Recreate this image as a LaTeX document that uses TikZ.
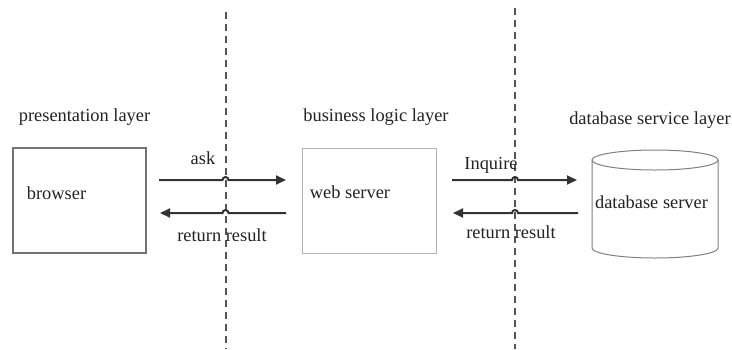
\documentclass[tikz,border=0pt]{standalone}
\usepackage{fontspec}
\setmainfont{Liberation Serif}
\usetikzlibrary{arrows.meta,calc}
\definecolor{ink}{HTML}{222222}
\definecolor{linegray}{HTML}{333333}
\definecolor{dashgray}{HTML}{555555}
\tikzset{
  txt/.style={inner sep=0pt, outer sep=0pt, text=ink, font=\fontsize{18.4}{22}\selectfont},
  boxdark/.style={draw=black!55, line width=2.2pt, minimum width=133pt, minimum height=105pt, inner sep=0pt, outer sep=0pt},
  boxlight/.style={draw=black!30, line width=1pt, minimum width=134pt, minimum height=105pt, inner sep=0pt, outer sep=0pt},
  cyl/.style={draw=black!50, line width=1pt},
  flow/.style={draw=linegray, line width=2pt, -{Triangle[length=10pt,width=9pt]}},
  divider/.style={draw=dashgray, line width=2pt, dash pattern=on 7pt off 5pt}
}
\begin{document}
\begin{tikzpicture}[x=1pt,y=-1pt]
\useasboundingbox (0,0) rectangle (732,349);

% layer dividers
\coordinate (d1top) at (225.5,12);
\coordinate (d1bot) at (225.5,349);
\coordinate (d2top) at (515,8);
\coordinate (d2bot) at (515,349);
\draw[divider] (d1top) -- (d1bot);
\draw[divider] (d2top) -- (d2bot);

% layer titles
\node[txt] (t1) at (84.5,117) {presentation layer};
\node[txt] (t2) at (376,117) {business logic layer};
\node[txt] (t3) at (650,120) {database service layer};

% components
\node[boxdark] (browser) at (79.5,200.5) {};
\node[txt] (browsertxt) at (56.5,193) {browser};
\node[boxlight] (web) at (369,200.5) {};
\node[txt] (webtxt) at (350,192) {web server};

\node[minimum width=126pt, minimum height=108pt, inner sep=0pt, outer sep=0pt] (db) at (655,204) {};
\draw[cyl] ($(db.north west)+(0,10)$) -- ($(db.south west)+(0,-10)$)
  arc[start angle=180, end angle=0, x radius=63, y radius=10]
  -- ($(db.north east)+(0,10)$);
\draw[cyl] ($(db.north)+(0,10)$) ellipse[x radius=63, y radius=10];
\node[txt] (dbtxt) at (651.5,202) {database server};

% requests and replies, hopping over the dividers
\coordinate (a1s) at ($(browser.east)+(13,-20.5)$);
\coordinate (a1e) at ($(web.west)+(-16,-20.5)$);
\draw[flow] (a1s) -- ($(a1s -| d1top)+(-3,0)$)
  arc[start angle=180, end angle=360, radius=3] -- (a1e);

\coordinate (a2s) at ($(web.west)+(-16,12.5)$);
\coordinate (a2e) at ($(browser.east)+(14,12.5)$);
\draw[flow] (a2s) -- ($(a2s -| d1top)+(3,0)$)
  arc[start angle=0, end angle=-180, radius=3] -- (a2e);

\coordinate (a3s) at ($(web.east)+(16,-20.5)$);
\coordinate (a3e) at ($(db.west)+(-15,-24)$);
\draw[flow] (a3s) -- ($(a3s -| d2top)+(-3,0)$)
  arc[start angle=180, end angle=360, radius=3] -- (a3e);

\coordinate (a4s) at ($(db.west)+(-14,9)$);
\coordinate (a4e) at ($(web.east)+(17,12.5)$);
\draw[flow] (a4s) -- ($(a4s -| d2top)+(3,0)$)
  arc[start angle=0, end angle=-180, radius=3] -- (a4e);

% arrow labels
\node[txt] (l1) at (203,158) {ask};
\node[txt] (l2) at (222,235) {return result};
\node[txt] (l3) at (491,165) {Inquire};
\node[txt] (l4) at (511,232) {return result};
\end{tikzpicture}
\end{document}
